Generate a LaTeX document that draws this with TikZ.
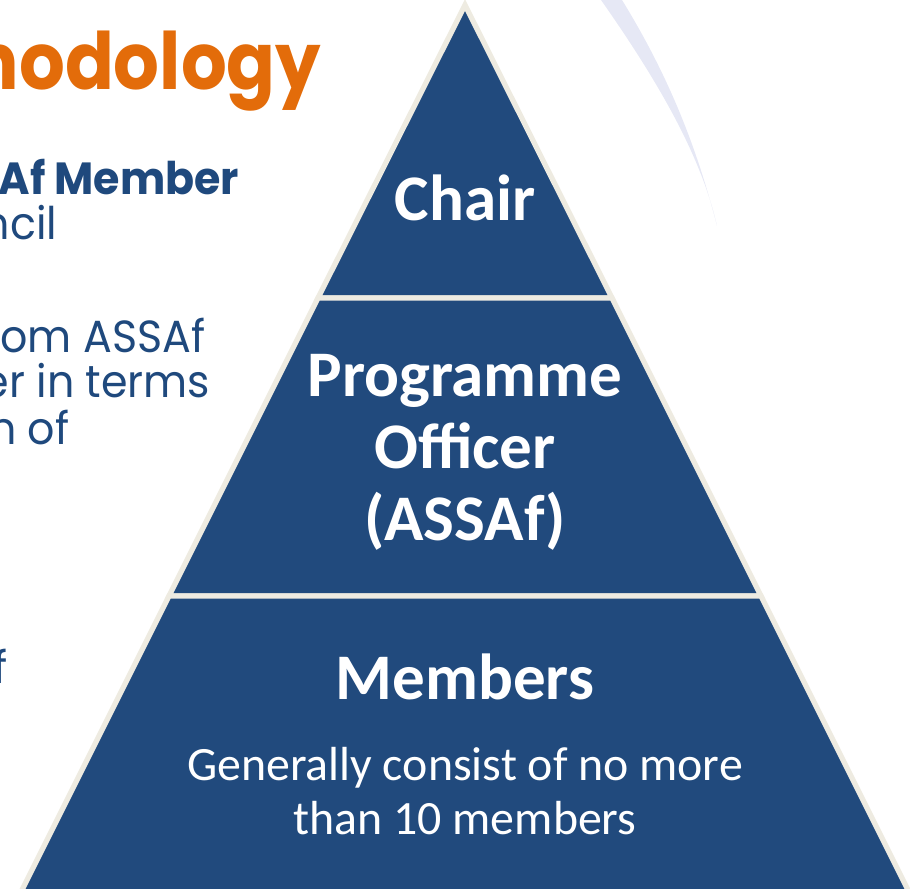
\documentclass[tikz,border=0pt]{standalone}
\usepackage{fontspec}
\setmainfont{Carlito}
\newfontfamily\gothic[FakeStretch=0.95]{Poppins}
\newfontfamily\gothichead[FakeStretch=0.91]{Poppins}
\definecolor{tiernavy}{HTML}{214A7D}
\definecolor{tieredge}{HTML}{EEEBE1}
\definecolor{titleorange}{HTML}{E36C0A}
\definecolor{bodynavy}{HTML}{1F497D}
\definecolor{crescent}{HTML}{E6E8F5}
\tikzset{
  tier/.style={fill=tiernavy, draw=tieredge, line width=1.5pt, line join=miter},
  tierlabel/.style={text=white, font=\bfseries\fontsize{18.5}{20.5}\selectfont, align=center, inner sep=0pt},
  tiernote/.style={text=white, font=\fontsize{13.6}{15.2}\selectfont, align=center, inner sep=0pt},
  bodytext/.style={text=bodynavy, font=\gothic\fontsize{12.8}{15}\selectfont, anchor=base east, inner sep=0pt},
  bodybold/.style={bodytext, font=\gothic\bfseries\fontsize{12.8}{15}\selectfont},
  heading/.style={text=titleorange, font=\gothichead\bfseries\fontsize{22.5}{26}\selectfont, anchor=base east, inner sep=0pt}
}
\begin{document}
\begin{tikzpicture}[x=0.01cm, y=-0.01cm]
\useasboundingbox (0,0) rectangle (910,889);
\clip (0,0) rectangle (910,889);

% decorative crescent behind the pyramid
\fill[crescent] (601,0) .. controls (650,70) and (700,150) .. (717,226)
  .. controls (695,140) and (665,70) .. (622,0) -- cycle;

% pyramid tiers
\draw[tier] (465,5) -- (612,298) -- (318,298) -- cycle;
\draw[tier] (318,298) -- (612,298) -- (761,596) -- (169,596) -- cycle;
\draw[tier] (169,596) -- (761,596) -- (909,892) -- (21,892) -- cycle;

\node[tierlabel] (chair) at (465,198) {Chair};
\node[tierlabel] (officer) at (465,452) {Programme\\Officer\\(ASSAf)};
\node[tierlabel] (members) at (465,677) {Members};
\node[tiernote] (note) at (465,791) {Generally consist of no more\\than 10 members};

% text column on the left
\node[heading] (title) at (322,90) {nodology};
\node[bodybold] (line1) at (240,195) {Af Member};
\node[bodytext] (line2) at (58,240) {ncil};
\node[bodytext] (line3) at (206,353) {om ASSAf};
\node[bodytext] (line4) at (211,398) {er in terms};
\node[bodytext] (line5) at (70,445) {n of};
\node[bodytext] (line6) at (8,683) {f};
\end{tikzpicture}
\end{document}
